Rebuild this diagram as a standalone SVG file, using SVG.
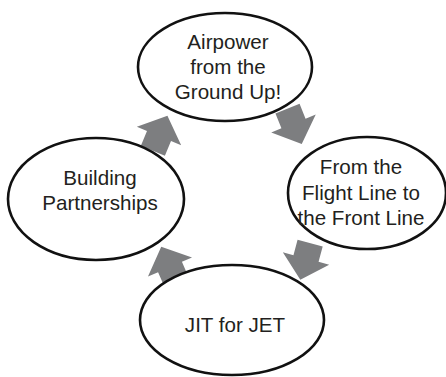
<svg xmlns="http://www.w3.org/2000/svg" xmlns:xlink="http://www.w3.org/1999/xlink" width="446" height="377" viewBox="0 0 446 377">
<defs>
<style>
.node ellipse{fill:#fff;stroke:#111;stroke-width:2.6}
.node text{font-family:"Liberation Sans",Arial,sans-serif;font-size:20.6px;fill:#231f20;text-anchor:middle}
.arrow{fill:#7d7e80}
</style>
<path id="blk" d="M0,-22 L24,0 L13,0 L13,16 L-13,16 L-13,0 L-24,0 Z"/>
</defs>
<rect width="446" height="377" fill="#fff"/>
<g id="connectors" class="arrow">
<use xlink:href="#blk" transform="translate(159,136) rotate(22.5)"/>
<use xlink:href="#blk" transform="translate(293.5,123.5) rotate(158)"/>
<use xlink:href="#blk" transform="translate(306,258.5) rotate(195)"/>
<use xlink:href="#blk" transform="translate(170,267) rotate(-23.5)"/>
</g>
<g id="airpower" class="node">
<ellipse cx="225" cy="67" rx="87" ry="54"/>
<text x="228" y="49">Airpower</text>
<text x="228" y="74">from the</text>
<text x="228" y="99">Ground Up!</text>
</g>
<g id="flightline" class="node">
<ellipse cx="367" cy="193" rx="79" ry="56"/>
<text x="361" y="174">From the</text>
<text x="361" y="200">Flight Line to</text>
<text x="361" y="225">the Front Line</text>
</g>
<g id="jit" class="node">
<ellipse cx="232" cy="320" rx="92" ry="55"/>
<text x="235" y="332">JIT for JET</text>
</g>
<g id="building" class="node">
<ellipse cx="96" cy="199" rx="88" ry="61"/>
<text x="100" y="185">Building</text>
<text x="100" y="210">Partnerships</text>
</g>
</svg>
